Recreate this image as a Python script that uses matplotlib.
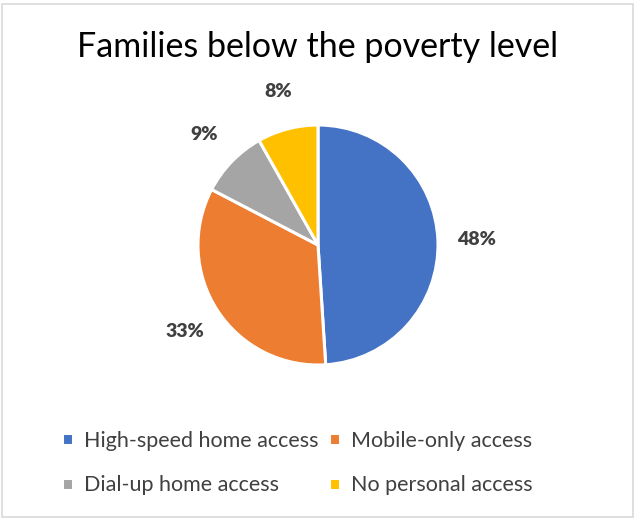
import matplotlib.pyplot as plt
from matplotlib.patches import Rectangle

# Data
categories = ["High-speed home access", "Mobile-only access",
              "Dial-up home access", "No personal access"]
shares = [48, 33, 9, 8]
pct_labels = ["48%", "33%", "9%", "8%"]
colors = ["#4472C4", "#ED7D31", "#A5A5A5", "#FFC000"]

plt.rcParams['font.family'] = ['Lato', 'DejaVu Sans']

fig = plt.figure(figsize=(6.35, 5.19), dpi=100)

# chart frame
fig.patches.append(Rectangle((2 / 635, 2 / 519), 631 / 635, 513 / 519,
                             transform=fig.transFigure, fill=False,
                             edgecolor="#D9D9D9", linewidth=1.2))

# pie area (center ~ (318, 245) px, radius ~120 px)
ax = fig.add_axes([198 / 635, 154 / 519, 240 / 635, 240 / 519])
wedges, texts = ax.pie(shares, labels=pct_labels, colors=colors,
                       startangle=90, counterclock=False,
                       labeldistance=1.32,
                       wedgeprops=dict(edgecolor="white", linewidth=2.2),
                       textprops=dict(fontsize=14, fontweight="heavy",
                                      color="#404040"))
ax.set_xlim(-1, 1)
ax.set_ylim(-1, 1)
ax.set_aspect("equal")
for t in texts:
    t.set_ha("center")
    t.set_va("center")

fig.text(0.5, 1 - 47 / 519, "Families below the poverty level",
         ha="center", va="center", fontsize=24.5, color="black")

# legend: column-major order
order = [0, 2, 1, 3]
fig.legend([wedges[i] for i in order], [categories[i] for i in order],
           ncol=2, loc="center", bbox_to_anchor=(0.468, 1 - 463 / 519),
           frameon=False, fontsize=15.5, labelcolor="#404040",
           handlelength=0.5, handleheight=0.5, handletextpad=0.5,
           columnspacing=0.5, labelspacing=1.15)

plt.savefig("out.png", dpi=100)
